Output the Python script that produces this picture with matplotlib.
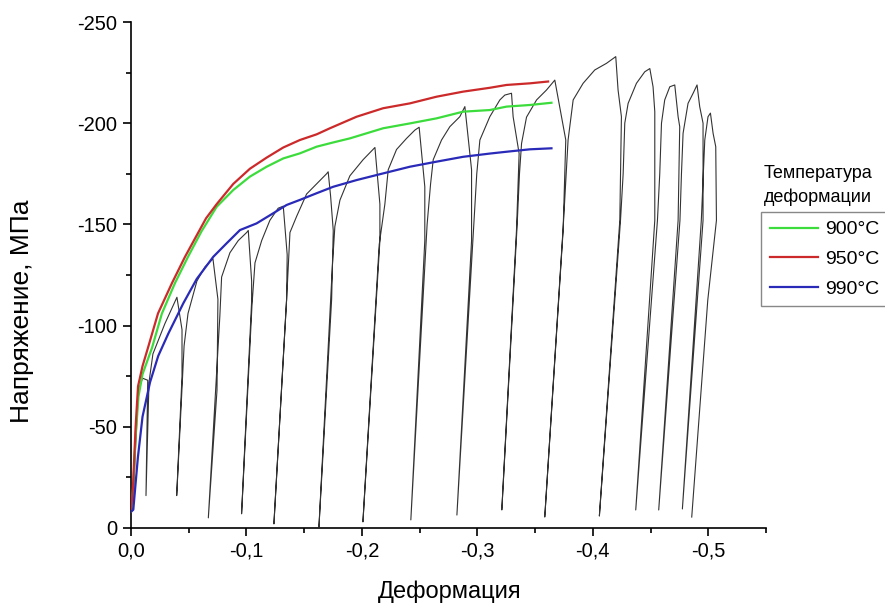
import matplotlib
matplotlib.use('Agg')
import matplotlib.pyplot as plt
from matplotlib.ticker import MultipleLocator, FuncFormatter

plt.rcParams['font.family'] = ['Liberation Sans', 'DejaVu Sans']

# smooth flow curves, one per deformation temperature
strain_900 = [0.0, -0.0017, -0.004, -0.0065, -0.010, -0.0182, -0.0268, -0.0381, -0.0494, -0.061,
              -0.0742, -0.0886, -0.103, -0.1175, -0.1319, -0.1463, -0.1608, -0.1752, -0.1896,
              -0.2184, -0.2416, -0.2647, -0.2877, -0.3108, -0.3253, -0.3455, -0.3642]
stress_900 = [-8, -18, -45, -65, -76, -89, -106, -121, -134, -146.5,
              -158.7, -167, -173.6, -178.5, -182.6, -185.1, -188.4, -190.5, -192.5,
              -197.5, -199.9, -202.4, -205.7, -206.5, -208.2, -209, -210.1]

strain_950 = [0.0, -0.0017, -0.004, -0.0061, -0.010, -0.0147, -0.0234, -0.0355, -0.0468, -0.0554,
              -0.0650, -0.0742, -0.0886, -0.103, -0.1175, -0.1319, -0.1463, -0.1608, -0.1723,
              -0.1954, -0.2184, -0.2416, -0.2647, -0.2877, -0.3108, -0.3253, -0.3455, -0.3613]
stress_950 = [-8, -20, -50, -70, -80, -89, -106, -121, -134, -143,
              -153, -160, -170, -177.5, -183, -188, -191.7, -194.5, -197.5,
              -203.2, -207.4, -209.8, -213.1, -215.6, -217.5, -218.9, -219.7, -220.6]

strain_990 = [0.0, -0.002, -0.006, -0.010, -0.0165, -0.0236, -0.0323, -0.0453, -0.0569, -0.0713,
              -0.0829, -0.0944, -0.1088, -0.1232, -0.1348, -0.1463, -0.1608, -0.1752, -0.1954,
              -0.2184, -0.2416, -0.2647, -0.2877, -0.3108, -0.3253, -0.3455, -0.3642]
stress_990 = [-8, -9, -35, -55, -72, -85, -96, -111, -123, -134,
              -140.7, -147.2, -150.5, -155.5, -159.6, -162.1, -165.4, -168.6, -171.9,
              -175.2, -178.5, -181, -183.4, -185, -185.9, -187.1, -187.6]

# multi-pass test: loading, peak, unloading to ~0 for each pass
pass_strain = [
    [0.0, -0.0017, -0.004, -0.0065, -0.010, -0.0145, -0.0130],
    [-0.0156, -0.0190, -0.0294, -0.0398, -0.0442, -0.0442, -0.0396],
    [-0.0460, -0.0494, -0.0571, -0.0641, -0.0710, -0.0753, -0.0745, -0.0670],
    [-0.0770, -0.0785, -0.0857, -0.0929, -0.1002, -0.1016, -0.1045, -0.1045, -0.0958],
    [-0.1048, -0.1074, -0.1132, -0.1203, -0.1275, -0.1319, -0.1353, -0.1348, -0.1238],
    [-0.1350, -0.1377, -0.1435, -0.1521, -0.1608, -0.1694, -0.1708, -0.1729, -0.1752, -0.1738, -0.1628],
    [-0.1745, -0.1766, -0.1810, -0.1896, -0.2011, -0.2113, -0.2156, -0.2156, -0.2009],
    [-0.2150, -0.2199, -0.2228, -0.2300, -0.2387, -0.2459, -0.2496, -0.2545, -0.2545, -0.2424],
    [-0.2565, -0.2595, -0.2618, -0.2690, -0.2762, -0.2848, -0.2892, -0.2950, -0.2950, -0.2823],
    [-0.2970, -0.2995, -0.3022, -0.3108, -0.3195, -0.3238, -0.3296, -0.3310, -0.3362, -0.3339, -0.3212],
    [-0.3345, -0.3365, -0.3383, -0.3426, -0.3513, -0.3599, -0.3671, -0.3766, -0.3743, -0.3584],
    [-0.3745, -0.3786, -0.3830, -0.3916, -0.4017, -0.4119, -0.4199, -0.4219, -0.4248, -0.4234, -0.4057],
    [-0.4240, -0.4263, -0.4277, -0.4306, -0.4378, -0.4450, -0.4494, -0.4522, -0.4537, -0.4537, -0.4372],
    [-0.4560, -0.4580, -0.4595, -0.4623, -0.4667, -0.4710, -0.4739, -0.4753, -0.4739, -0.4571],
    [-0.4755, -0.4768, -0.4782, -0.4825, -0.4869, -0.4903, -0.4926, -0.4955, -0.4955, -0.4776],
    [-0.4940, -0.4970, -0.4998, -0.5019, -0.5042, -0.5065, -0.5071, -0.4996, -0.4857],
]
pass_stress = [
    [-8, -10, -40, -68, -74, -73, -16],
    [-72, -86, -101, -114, -98, -75, -16],
    [-90, -106, -122, -129, -133, -113, -68, -5],
    [-105, -124, -136, -142, -146, -147, -122, -112, -7],
    [-110, -131, -142, -152, -158, -159, -135, -113, -2],
    [-115, -146, -154, -165, -170, -175, -176, -164, -147, -113, -0.5],
    [-130, -149, -162, -174, -182, -188, -160, -142, -3],
    [-140, -160, -177, -187, -192.5, -196.6, -198, -168.6, -142, -4],
    [-150, -170, -182, -191.7, -198.3, -203.2, -208.2, -177, -142, -6.4],
    [-150, -175, -191.7, -203.2, -211.5, -213.9, -214.8, -203.2, -185, -147, -8.9],
    [-150, -175, -190, -203, -211.5, -216.4, -221.3, -191.7, -147, -5.4],
    [-150, -191.7, -211.5, -219.7, -226.3, -229.6, -232.9, -216.4, -203.2, -152, -5.9],
    [-152, -175, -200, -209.8, -219.7, -225.4, -227, -218, -205.7, -152, -8.9],
    [-152, -175, -200, -211.5, -218, -218.9, -203.2, -198.3, -152, -8.9],
    [-152, -175, -195, -209.8, -214.8, -218.9, -208.2, -200, -152, -9.4],
    [-152, -191.7, -203.2, -205, -195, -188.4, -152, -112.6, -5.4],
]

labels = ['900°C', '950°C', '990°C']
colors = ['#3cdc3c', '#cc2a2a', '#2a2ab8']

fig = plt.figure(figsize=(8.85, 6.08), dpi=100)
ax = fig.add_axes([0.148, 0.1316, 0.7175, 0.8322])

multi_x = [v for p in pass_strain for v in p]
multi_y = [v for p in pass_stress for v in p]
ax.plot(multi_x, multi_y, color='#333333', lw=0.8, zorder=2)

handles = []
for xs, ys, c, lab in zip([strain_900, strain_950, strain_990],
                          [stress_900, stress_950, stress_990], colors, labels):
    h, = ax.plot(xs, ys, color=c, lw=1.6, label=lab, zorder=3)
    handles.append(h)

ax.set_xlim(0, -0.55)
ax.set_ylim(0, -250)

for s in ['top', 'right']:
    ax.spines[s].set_visible(False)
for s in ['left', 'bottom']:
    ax.spines[s].set_linewidth(1.2)

ax.xaxis.set_major_locator(MultipleLocator(0.1))
ax.xaxis.set_minor_locator(MultipleLocator(0.05))
ax.yaxis.set_major_locator(MultipleLocator(50))
ax.yaxis.set_minor_locator(MultipleLocator(25))
ax.xaxis.set_major_formatter(FuncFormatter(
    lambda v, p: '0,0' if abs(v) < 1e-9 else f'{v:.1f}'.replace('.', ',')))
ax.yaxis.set_major_formatter(FuncFormatter(
    lambda v, p: '0' if abs(v) < 1e-9 else f'{v:.0f}'))
ax.tick_params(which='major', direction='out', length=6, width=1.2, labelsize=14.5, pad=4)
ax.tick_params(which='minor', direction='out', length=3.5, width=1.2)

ax.set_xlabel('Деформация', fontsize=17, va='center')
ax.xaxis.set_label_coords(0.502, -0.126)
ax.set_ylabel('Напряжение, МПа', fontsize=19, va='center')
ax.yaxis.set_label_coords(-0.172, 0.429)

fig.text(764 / 885, 1 - 185.5 / 608, 'Температура\nдеформации', fontsize=13,
         ha='left', va='center', linespacing=1.5)
leg = ax.legend(handles=handles, loc='upper left', bbox_to_anchor=(761 / 885, 1 - 212 / 608),
                bbox_transform=fig.transFigure, fontsize=14, frameon=True, fancybox=False,
                edgecolor='#888888', framealpha=1, borderaxespad=0, borderpad=0.45,
                handlelength=2.5, handletextpad=0.35, labelspacing=0.62)
leg.get_frame().set_linewidth(1)

fig.savefig('out.png', dpi=100)
